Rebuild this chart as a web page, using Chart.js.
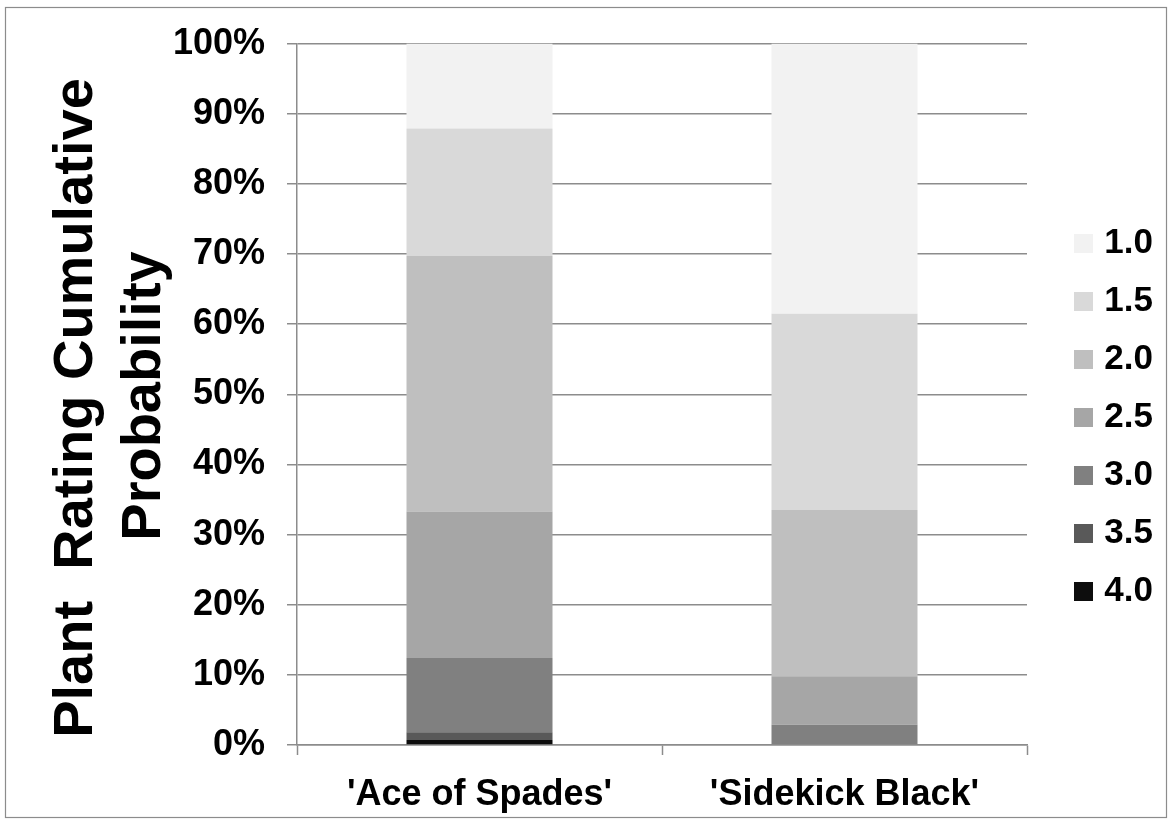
<!DOCTYPE html>
<html>
<head>
<meta charset="utf-8">
<script src="https://cdn.jsdelivr.net/npm/chart.js@4"></script>
<style>
  html, body { margin: 0; padding: 0; background: #ffffff; }
  #wrap { position: relative; width: 1171px; height: 822px; }
</style>
</head>
<body>
<div id="wrap"><canvas id="c"></canvas></div>
<script>
// ---- data ----
const categories = ["'Ace of Spades'", "'Sidekick Black'"];
const seriesLabels = ['4.0', '3.5', '3.0', '2.5', '2.0', '1.5', '1.0'];
const rating40 = [0.7, 0.0];
const rating35 = [1.1, 0.0];
const rating30 = [10.6, 2.9];
const rating25 = [20.9, 6.9];
const rating20 = [36.4, 23.7];
const rating15 = [18.2, 28.0];
const rating10 = [12.1, 38.5];
const yTicks = [0, 10, 20, 30, 40, 50, 60, 70, 80, 90, 100];
const yTitleLines = ['Plant  Rating Cumulative', 'Probability'];

// ---- styles ----
const seriesColors = ['#0d0d0d', '#595959', '#808080', '#a6a6a6', '#bfbfbf', '#d9d9d9', '#f2f2f2'];
const FONT = '"Liberation Sans", Arial, Helvetica, sans-serif';
const GRID = '#8c8c8c';

const seriesValues = [rating40, rating35, rating30, rating25, rating20, rating15, rating10];
const datasets = seriesLabels.map((lab, i) => ({
  label: lab,
  data: seriesValues[i],
  backgroundColor: seriesColors[i],
  borderWidth: 0,
  barPercentage: 0.4,
  categoryPercentage: 1.0
}));

const framePlugin = {
  id: 'frame',
  beforeDraw(chart) {
    const ctx = chart.ctx;
    ctx.save();
    ctx.fillStyle = '#ffffff';
    ctx.fillRect(0, 0, chart.width, chart.height);
    ctx.strokeStyle = '#8c8c8c';
    ctx.lineWidth = 1.2;
    ctx.strokeRect(5.5, 7.5, 1161, 810);
    ctx.restore();
  }
};

const yTitlePlugin = {
  id: 'yTitle',
  afterDraw(chart) {
    const ctx = chart.ctx;
    ctx.save();
    ctx.fillStyle = '#000000';
    ctx.font = 'bold 56px ' + FONT;
    ctx.textAlign = 'center';
    ctx.textBaseline = 'alphabetic';
    const pos = [[92, 408], [160, 396]];
    yTitleLines.forEach((t, i) => {
      ctx.save();
      ctx.translate(pos[i][0], pos[i][1]);
      ctx.rotate(-Math.PI / 2);
      ctx.fillText(t, 0, 0);
      ctx.restore();
    });
    ctx.restore();
  }
};

const legendPlugin = {
  id: 'legendFix',
  beforeLayout(chart) {
    const lg = chart.legend;
    if (lg && !lg._fixed) {
      const orig = lg.fit.bind(lg);
      lg.fit = function () { orig(); this.width = 144; };
      lg._fixed = true;
    }
  },
  afterLayout(chart) {
    const lg = chart.legend;
    if (!lg) return;
    const pad = lg.options.labels.padding;
    lg.left = 1074 - pad;
    lg.right = 1153;
    lg.top -= 13; lg.bottom -= 13;
  }
};

new Chart(document.getElementById('c'), {
  type: 'bar',
  data: { labels: categories, datasets: datasets },
  plugins: [framePlugin, yTitlePlugin, legendPlugin],
  options: {
    responsive: true,
    maintainAspectRatio: false,
    animation: false,
    layout: { padding: { top: 39, left: 0, right: 0, bottom: 0 } },
    plugins: {
      tooltip: { enabled: false },
      title: { display: false },
      legend: {
        display: true,
        position: 'right',
        reverse: true,
        labels: {
          boxWidth: 19,
          boxHeight: 19,
          padding: 23,
          textAlign: 'right',
          color: '#000000',
          font: { family: FONT, size: 35, weight: 'bold' }
        }
      }
    },
    scales: {
      x: {
        stacked: true,
        offset: true,
        afterFit: s => { s.height = 822 - 745; },
        grid: {
          display: true,
          offset: true,
          drawOnChartArea: false,
          drawTicks: true,
          tickLength: 10,
          tickColor: GRID,
          tickWidth: 1.5,
          color: GRID
        },
        border: { display: true, color: GRID, width: 1.5 },
        ticks: {
          color: '#000000',
          padding: 18,
          font: { family: FONT, size: 36, weight: 'bold' },
          maxRotation: 0,
          autoSkip: false
        }
      },
      y: {
        stacked: true,
        min: 0,
        max: 100,
        afterFit: s => { s.width = 297; },
        afterBuildTicks: s => { s.ticks = yTicks.map(v => ({ value: v })); },
        grid: {
          display: true,
          color: GRID,
          lineWidth: 1.5,
          drawTicks: true,
          tickLength: 10,
          tickColor: GRID,
          tickWidth: 1.5
        },
        border: { display: true, color: GRID, width: 1.5 },
        ticks: {
          color: '#000000',
          padding: 22,
          font: { family: FONT, size: 36, weight: 'bold' },
          callback: v => v + '%'
        }
      }
    }
  }
});
</script>
</body>
</html>
